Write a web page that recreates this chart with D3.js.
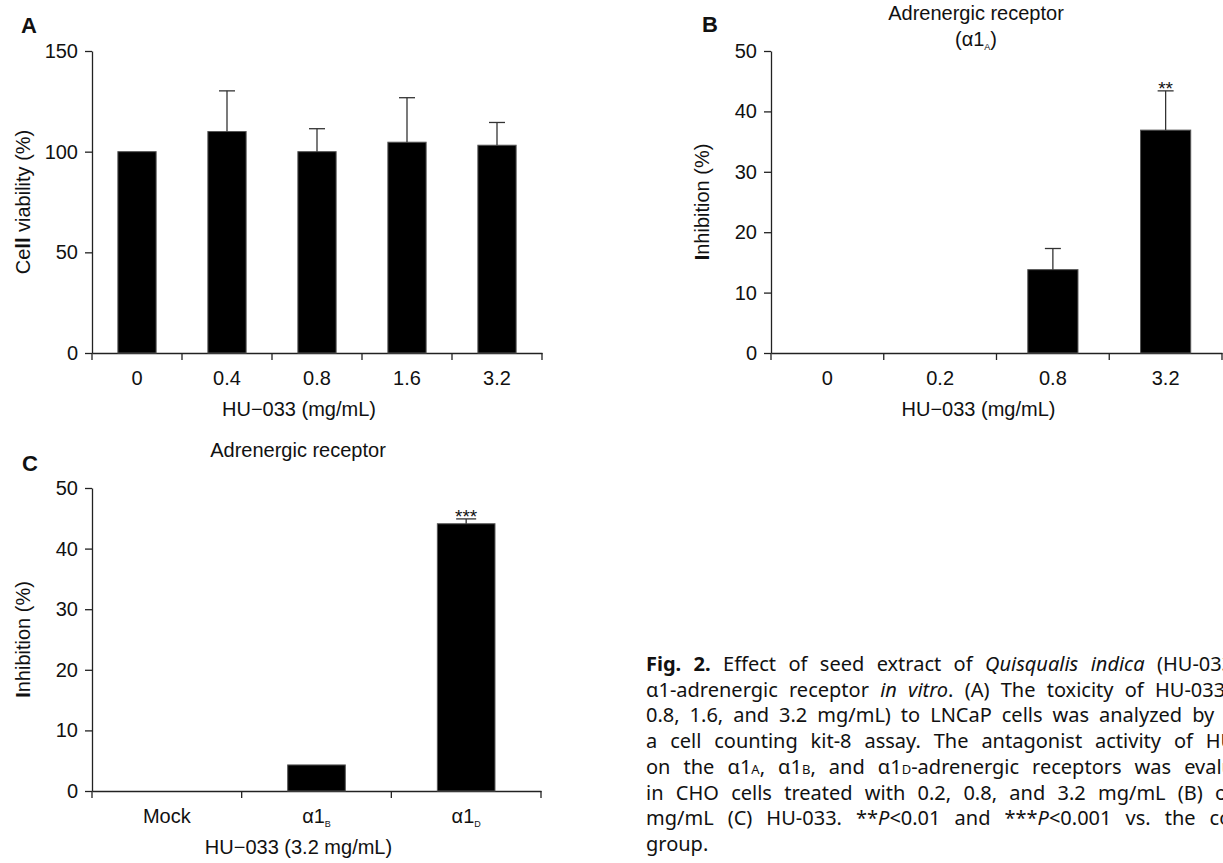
<!DOCTYPE html>
<html>
<head>
<meta charset="utf-8">
<title>HU-033 adrenergic receptor</title>
<style>
  body { margin: 0; background: #fff; }
  svg text { font-family: "Liberation Sans", Arial, sans-serif; fill: #111; }
  .caption text { font-family: "Noto Sans", sans-serif; }
</style>
</head>
<body>
<svg id="fig" width="1223" height="863"></svg>
<script src="https://d3js.org/d3.v7.min.js"></script>
<script>
// A: cell viability
const doseA = ['0', '0.4', '0.8', '1.6', '3.2']
const viability = [100, 110, 100, 104.7, 103.2]
const viabilityErr = [0, 20.2, 11.4, 22.1, 11.3]
const ticksA = [0, 50, 100, 150]

// B: alpha1A inhibition
const doseB = ['0', '0.2', '0.8', '3.2']
const inhibB = [0, 0, 13.8, 36.9]
const inhibBErr = [0, 0, 3.5, 6.5]
const starsB = ['', '', '', '**']

// C: alpha1B / alpha1D inhibition at 3.2 mg/mL
const receptorsC = ['Mock', 'α1|B', 'α1|D']
const inhibC = [0, 4.3, 44.1]
const inhibCErr = [0, 0, 0.8]
const starsC = ['', '', '***']
const ticksBC = [0, 10, 20, 30, 40, 50]

const captionLines = [
  '<b>Fig. 2.</b> Effect of seed extract of <i>Quisqualis indica</i> (HU-033) on',
  'α1-adrenergic receptor <i>in vitro</i>. (A) The toxicity of HU-033 (0.4,',
  '0.8, 1.6, and 3.2 mg/mL) to LNCaP cells was analyzed by using',
  'a cell counting kit-8 assay. The antagonist activity of HU-033',
  'on the α1<s>A</s>, α1<s>B</s>, and α1<s>D</s>-adrenergic receptors was evaluated',
  'in CHO cells treated with 0.2, 0.8, and 3.2 mg/mL (B) or 3.2',
  'mg/mL (C) HU-033. **<i>P</i>&lt;0.01 and ***<i>P</i>&lt;0.001 vs. the control',
  'group.'
]

const svg = d3.select('#fig')

function catLabel(sel) {
  // "α1|B" -> alpha-1 with a small subscript
  sel.each(function(d) {
    const t = d3.select(this)
    const parts = d.split('|')
    t.text(parts[0])
    if (parts[1]) t.append('tspan').attr('font-size', 9).attr('dy', 4).text(parts[1])
  })
}

function richText(t, parts) {
  // parts: [[text, bold?], ...]
  parts.forEach(p => t.append('tspan').attr('font-weight', p[1] ? 'bold' : null).text(p[0]))
}

function panel(o) {
  const g = svg.append('g')
  const x = d3.scaleBand().domain(o.cats).range(o.xr).padding(0)
  const y = d3.scaleLinear().domain([0, o.ymax]).range(o.yr)

  const ya = g.append('g')
    .attr('transform', `translate(${o.xr[0]},0)`)
    .call(d3.axisLeft(y).tickValues(o.ticks).tickSize(7).tickSizeOuter(0).tickPadding(7))
  ya.attr('font-size', 20)
  ya.selectAll('line, path').attr('stroke', '#222').attr('stroke-width', 1.3)

  const xa = g.append('g')
    .attr('transform', `translate(0,${o.yr[0]})`)
    .call(d3.axisBottom(x).tickSize(0).tickPadding(18))
  xa.attr('font-size', 20)
  xa.select('.domain').attr('stroke', '#222').attr('stroke-width', 1.3)
  xa.selectAll('.tick text').call(catLabel)

  // tick marks sit on the band edges
  const edges = o.cats.map(c => x(c)).concat([o.xr[1]])
  xa.selectAll('.edge').data(edges).join('line')
    .attr('x1', d => d).attr('x2', d => d)
    .attr('y1', 0).attr('y2', 7)
    .attr('stroke', '#222').attr('stroke-width', 1.3)

  const bw = x.bandwidth() * o.barFrac
  const rows = o.cats.map((c, i) => ({c, v: o.vals[i], e: o.errs[i], s: o.stars ? o.stars[i] : ''}))
  const shown = rows.filter(d => d.v > 0)

  g.selectAll('.bar').data(shown).join('rect')
    .attr('x', d => x(d.c) + (x.bandwidth() - bw) / 2)
    .attr('width', bw)
    .attr('y', d => y(d.v))
    .attr('height', d => y(0) - y(d.v))
    .attr('fill', '#000').attr('stroke', '#555').attr('stroke-width', 1)

  const withErr = shown.filter(d => d.e > 0)
  const cx = d => x(d.c) + x.bandwidth() / 2
  g.selectAll('.err').data(withErr).join('line')
    .attr('x1', cx).attr('x2', cx)
    .attr('y1', d => y(d.v)).attr('y2', d => y(d.v + d.e))
    .attr('stroke', '#333').attr('stroke-width', 1.3)
  g.selectAll('.cap').data(withErr).join('line')
    .attr('x1', d => cx(d) - o.cap / 2).attr('x2', d => cx(d) + o.cap / 2)
    .attr('y1', d => y(d.v + d.e)).attr('y2', d => y(d.v + d.e))
    .attr('stroke', '#333').attr('stroke-width', 1.3)
  g.selectAll('.star').data(withErr.filter(d => d.s)).join('text')
    .attr('x', cx).attr('y', d => y(d.v + d.e) + 4)
    .attr('text-anchor', 'middle').attr('font-size', 19)
    .text(d => d.s)

  // axis titles
  const yt = g.append('text')
    .attr('transform', `translate(${o.ytx},${(o.yr[0] + o.yr[1]) / 2}) rotate(-90)`)
    .attr('text-anchor', 'middle').attr('dominant-baseline', 'central')
    .attr('font-size', 20)
  richText(yt, o.ytitle)
  g.append('text')
    .attr('x', (o.xr[0] + o.xr[1]) / 2 - 18).attr('y', o.yr[0] + 63)
    .attr('text-anchor', 'middle').attr('font-size', 20)
    .text(o.xtitle)
  g.append('text')
    .attr('x', o.letter[0]).attr('y', o.letter[1])
    .attr('font-size', 22).attr('font-weight', 'bold')
    .text(o.letterText)
  return g
}

panel({
  cats: doseA, vals: viability, errs: viabilityErr, ticks: ticksA, ymax: 150,
  xr: [92, 542], yr: [353, 51], barFrac: 0.425, cap: 16,
  ytitle: [['Ce'], ['ll', true], [' viability (%)']], ytx: 23, xtitle: 'HU−033 (mg/mL)',
  letter: [21, 33], letterText: 'A'
})

const gB = panel({
  cats: doseB, vals: inhibB, errs: inhibBErr, stars: starsB, ticks: ticksBC, ymax: 50,
  xr: [771, 1222], yr: [353, 51], barFrac: 0.445, cap: 16,
  ytitle: [['I', true], ['nhibition (%)']], ytx: 702, xtitle: 'HU−033 (mg/mL)',
  letter: [702, 32], letterText: 'B'
})
gB.append('text').attr('x', 976).attr('y', 20).attr('text-anchor', 'middle')
  .attr('font-size', 20).text('Adrenergic receptor')
const sub = gB.append('text').attr('x', 976).attr('y', 46).attr('text-anchor', 'middle')
  .attr('font-size', 20)
sub.append('tspan').text('(α1')
sub.append('tspan').attr('font-size', 9).attr('dy', 4).text('A')
sub.append('tspan').attr('dy', -4).text(')')

const gC = panel({
  cats: receptorsC, vals: inhibC, errs: inhibCErr, stars: starsC, ticks: ticksBC, ymax: 50,
  xr: [92, 541], yr: [791, 488], barFrac: 0.385, cap: 20,
  ytitle: [['I', true], ['nhibition (%)']], ytx: 23, xtitle: 'HU−033 (3.2 mg/mL)',
  letter: [22, 471], letterText: 'C'
})
gC.append('text').attr('x', 298).attr('y', 457).attr('text-anchor', 'middle')
  .attr('font-size', 20).text('Adrenergic receptor')

// caption, justified lines running past the right edge
const cap = svg.append('g').attr('class', 'caption')
const capX = 646, capW = 630, capY = 671, capLead = 25.7
captionLines.forEach((line, i) => {
  const t = cap.append('text').attr('x', capX).attr('y', capY + i * capLead)
    .attr('font-size', 20)
  const re = /<(b|i|s)>(.*?)<\/\1>|([^<]+)/g
  let m, plain = ''
  while ((m = re.exec(line)) !== null) {
    const txt = (m[2] || m[3]).replace('&lt;', '<')
    plain += txt
    const ts = t.append('tspan').text(txt)
    if (m[1] === 'b') ts.attr('font-weight', 'bold')
    if (m[1] === 'i') ts.attr('font-style', 'italic')
    if (m[1] === 's') ts.attr('font-size', 13)
  }
  if (i < captionLines.length - 1) {
    const spaces = (plain.match(/ /g) || []).length
    const nat = t.node().getComputedTextLength()
    t.attr('word-spacing', Math.max(0, (capW - nat) / spaces))
  }
})
</script>
</body>
</html>
